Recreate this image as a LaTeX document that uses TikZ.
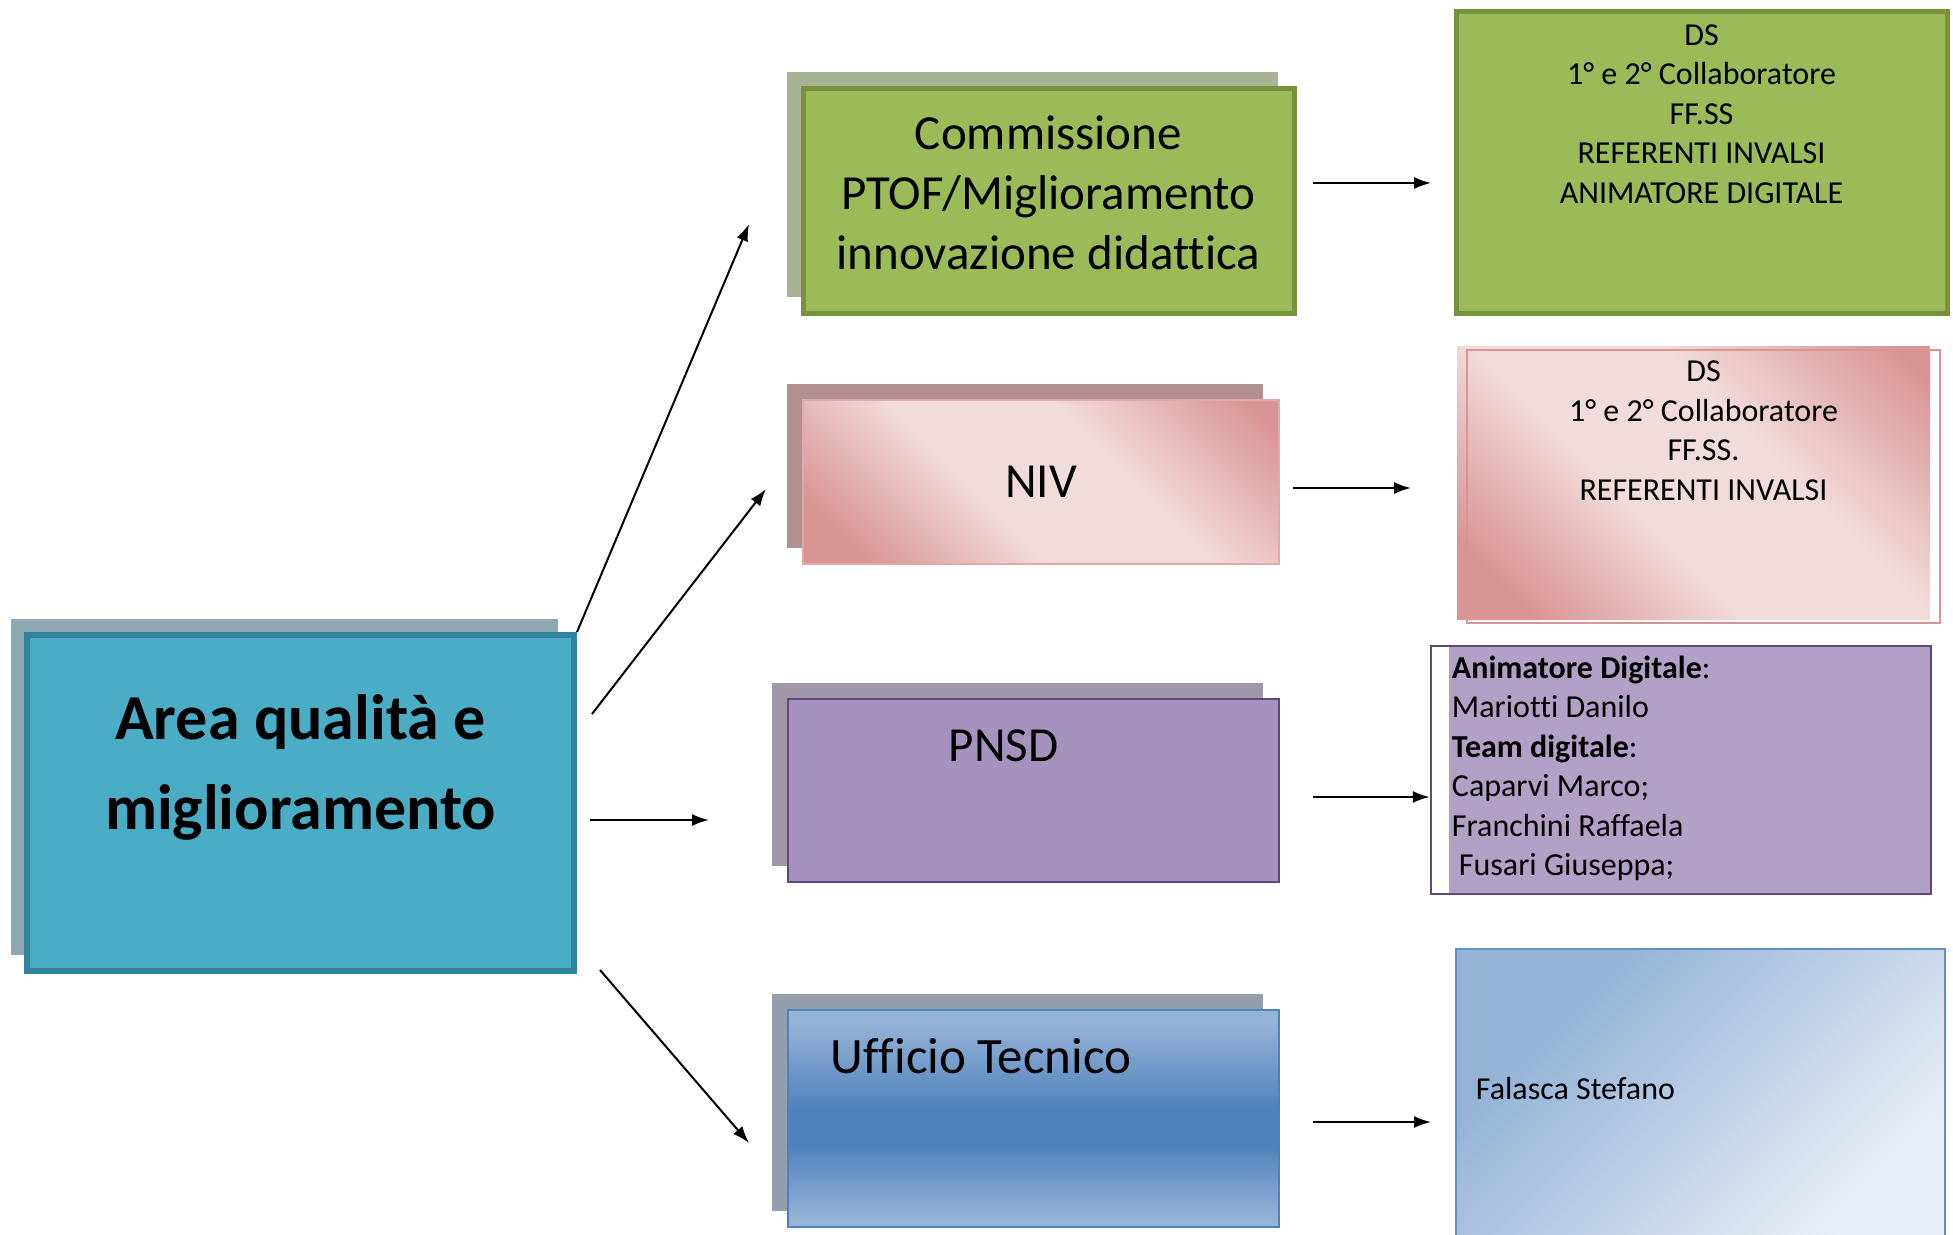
\documentclass[tikz,border=0pt]{standalone}
\usepackage{fontspec}
\setmainfont{Carlito}[Ligatures = NoCommon]
\usepackage{xcolor}
\definecolor{areaFill}{HTML}{4BACC6}
\definecolor{areaBorder}{HTML}{31849B}
\definecolor{areaShadow}{HTML}{8FA9B3}
\definecolor{ptofFill}{HTML}{9BBB59}
\definecolor{ptofBorder}{HTML}{76923C}
\definecolor{ptofShadow}{HTML}{A8B396}
\definecolor{nivLight}{HTML}{F2DCDB}
\definecolor{nivDark}{HTML}{D99594}
\definecolor{nivShadow}{HTML}{B09091}
\definecolor{pnsdFill}{HTML}{A692BE}
\definecolor{pnsdBorder}{HTML}{5F497A}
\definecolor{pnsdShadow}{HTML}{A098A8}
\definecolor{listFill}{HTML}{B2A1C7}
\definecolor{uffLight}{HTML}{95B3D7}
\definecolor{uffDark}{HTML}{4F81BD}
\definecolor{uffShadow}{HTML}{929FAE}
\definecolor{uffPale}{HTML}{EBF0F7}
\usepackage{tikz}
\usetikzlibrary{arrows.meta}
\tikzset{arrow/.style = {> = {Latex[length = 17pt, width = 12pt]}, line width = 2pt}}
\usetikzlibrary{positioning}
\usetikzlibrary{shadows}

\pgfdeclarehorizontalshading{pinkband}{100bp}{color(0bp)=(nivDark); color(22bp)=(nivDark); color(42bp)=(nivLight); color(60bp)=(nivLight); color(82bp)=(nivDark); color(100bp)=(nivDark)}
\pgfdeclareverticalshading{bluebar}{100bp}{color(0bp)=(uffLight); color(27bp)=(uffLight); color(44bp)=(uffDark); color(52bp)=(uffDark); color(72bp)=(uffLight); color(100bp)=(uffLight)}
\pgfdeclarehorizontalshading{bluefade}{100bp}{color(0bp)=(uffLight); color(30bp)=(uffLight); color(75bp)=(uffPale); color(100bp)=(uffPale)}

\tikzset{
	box/.style = {rectangle, inner sep = 0pt},
	backbox/.style = {general shadow = {fill = #1, shadow xshift = -16pt, shadow yshift = 16pt}},
	boxtext/.style = {inner sep = 0pt, align = center, font = \fontsize{49}{60}\selectfont},
	listtext/.style = {inner sep = 0pt, font = \fontsize{32}{39.5}\selectfont}
}

\begin{document}
\begin{tikzpicture}[x = 1pt, y = -1pt]
	\useasboundingbox (0, 0) rectangle (1953, 1234);

	%% Level 0
	\node[box, backbox = areaShadow, draw = areaBorder, line width = 6pt, fill = areaFill, minimum width = 547pt, minimum height = 336pt] (area) at (300.5, 803) {};
	\node[boxtext, font = \fontsize{64}{90}\selectfont\bfseries] (areatext) at ([yshift = 36pt]area.center) {Area qualità e\\miglioramento};

	%% Level 1
	\node[box, backbox = ptofShadow, draw = ptofBorder, line width = 5pt, fill = ptofFill, minimum width = 491pt, minimum height = 225pt] (ptof) at (1048.5, 200.5) {};
	\node[boxtext] (ptoftext) at ([yshift = 8pt]ptof.center) {Commissione\\PTOF/Miglioramento\\innovazione didattica};

	\node[box, backbox = nivShadow, draw = nivDark!80!white, line width = 2pt, shade, shading = pinkband, shading angle = 45, minimum width = 476pt, minimum height = 164pt, boxtext] (niv) at (1041, 482) {NIV};

	\node[box, backbox = pnsdShadow, draw = pnsdBorder, line width = 2.5pt, fill = pnsdFill, minimum width = 491pt, minimum height = 183pt] (pnsd) at (1033.5, 790.5) {};
	\node[boxtext] (pnsdtext) at ([xshift = -30pt, yshift = 45pt]pnsd.center) {PNSD};

	\node[box, backbox = uffShadow, draw = uffDark, line width = 2.5pt, shade, shading = bluebar, minimum width = 491pt, minimum height = 217pt] (ufficio) at (1033.5, 1118.5) {};
	\node[boxtext, anchor = west, font = \fontsize{51}{60}\selectfont] (ufficiotext) at ([xshift = 44pt, yshift = -47pt]ufficio.north west) {Ufficio Tecnico};

	%% Level 2
	\node[box, draw = ptofBorder, line width = 5pt, fill = ptofFill, minimum width = 491pt, minimum height = 302pt] (dsptof) at (1701.5, 162) {};
	\node[listtext, align = center, below = 16pt of dsptof.north] (dsptoftext) {DS\\1° e 2° Collaboratore\\FF.SS\\REFERENTI INVALSI\\ANIMATORE DIGITALE};

	\node[box, draw = nivDark, line width = 2.5pt, general shadow = {shade, shading = pinkband, shading angle = 45, shadow xshift = -10pt, shadow yshift = 4pt}, minimum width = 473pt, minimum height = 273pt] (dsniv) at (1703.5, 486.5) {};
	\node[listtext, align = center, below = 12pt of dsniv.north] (dsnivtext) {DS\\1° e 2° Collaboratore\\FF.SS.\\REFERENTI INVALSI};

	\node[box, draw = pnsdBorder, line width = 2.5pt, fill = listFill, minimum width = 500pt, minimum height = 248pt,
		path picture = {\fill[white] (path picture bounding box.north west) rectangle ([xshift = 18pt]path picture bounding box.south west);}] (dspnsd) at (1681, 770) {};
	\node[listtext, align = left, below right = 11pt and 22pt of dspnsd.north west] (dspnsdtext) {\textbf{Animatore Digitale}:\\Mariotti Danilo\\\textbf{Team digitale}:\\Caparvi Marco;\\Franchini Raffaela\\\hspace*{7pt}Fusari Giuseppa;};

	\node[box, draw = uffDark!90!white, line width = 2.5pt, shade, shading = bluefade, shading angle = -45, minimum width = 489pt, minimum height = 296pt] (dsuff) at (1700.5, 1097) {};
	\node[listtext, anchor = west] (dsufftext) at ([xshift = 21pt, yshift = -141pt]dsuff.north west) {Falasca Stefano};

	%% Connectors
	\coordinate (ptofin) at (749, 224);
	\coordinate (nivout) at (592, 714);
	\coordinate (nivin) at (766, 489);
	\coordinate (pnsdout) at (590, 820);
	\coordinate (pnsdin) at (709, 820);
	\coordinate (uffout) at (600, 970);
	\coordinate (uffin) at (749, 1143);

	\coordinate (ptofout) at (1313, 183);
	\coordinate (dsptofin) at (1431, 183);
	\coordinate (nivright) at (1293, 488);
	\coordinate (dsnivin) at (1411, 488);
	\coordinate (pnsdright) at (1313, 797);
	\coordinate (uffright) at (1313, 1122);
	\coordinate (dsuffin) at (1431, 1122);

	\draw[arrow, ->] (area.north east) -- (ptofin);
	\draw[arrow, ->] (nivout) -- (nivin);
	\draw[arrow, ->] (pnsdout) -- (pnsdin);
	\draw[arrow, ->] (uffout) -- (uffin);

	\draw[arrow, ->] (ptofout) -- (dsptofin);
	\draw[arrow, ->] (nivright) -- (dsnivin);
	\draw[arrow, ->] (pnsdright) -- (pnsdright -| dspnsd.west);
	\draw[arrow, ->] (uffright) -- (dsuffin);

\end{tikzpicture}
\end{document}
